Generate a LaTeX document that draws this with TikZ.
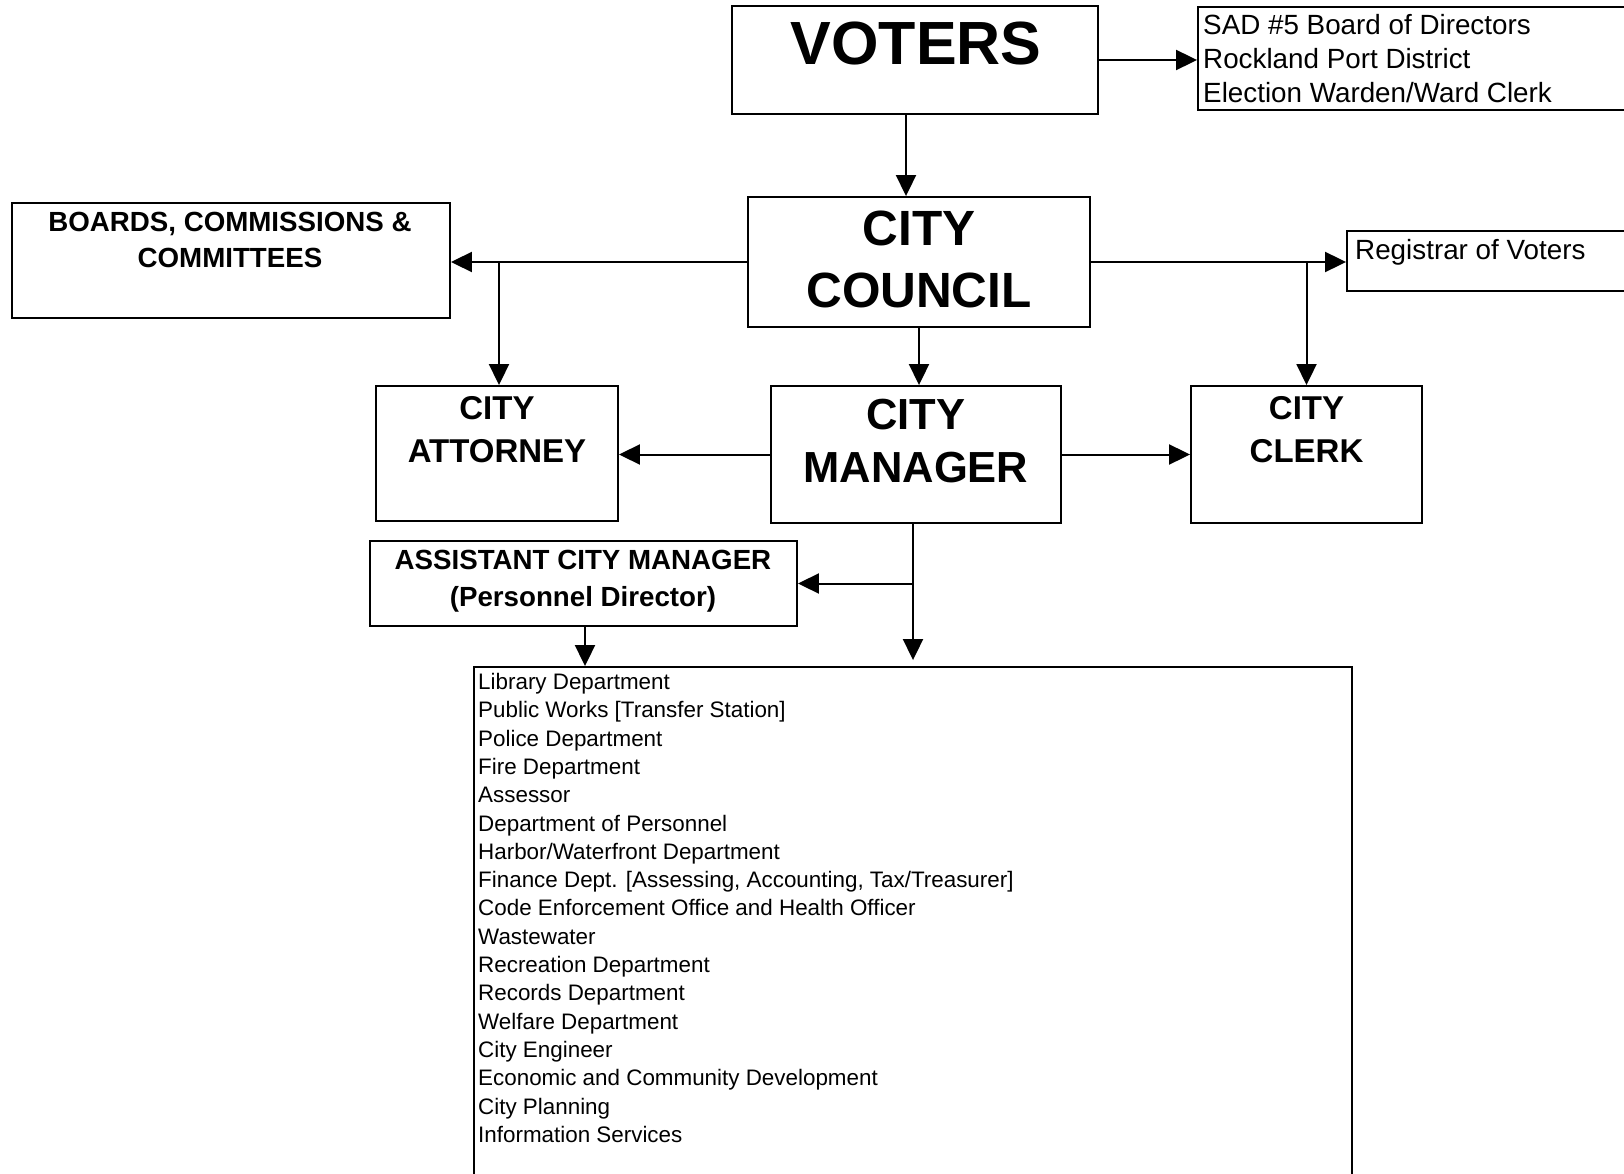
\documentclass[tikz,border=0pt]{standalone}
\usepackage{fontspec}
\setmainfont{Liberation Sans}
\usetikzlibrary{arrows.meta}
\begin{document}
\begin{tikzpicture}[x=1pt,y=-1pt,
  box/.style={draw, line width=1.9pt, inner sep=0pt},
  arr/.style={line width=2pt, -{Triangle[length=21pt,width=20pt]}},
  ttl/.style={anchor=base, inner sep=0pt, align=center},
  lst/.style={anchor=base west, inner sep=0pt},
  fvoters/.style={font=\bfseries\fontsize{61}{61}\selectfont},
  fcouncil/.style={font=\bfseries\fontsize{49.5}{50}\selectfont},
  fmanager/.style={font=\bfseries\fontsize{43.5}{44}\selectfont},
  fmiddle/.style={font=\bfseries\fontsize{33}{34}\selectfont},
  fsmall/.style={font=\bfseries\fontsize{27.7}{28}\selectfont},
  fregular/.style={font=\fontsize{27.8}{28}\selectfont},
  fdept/.style={font=\fontsize{22.4}{24}\selectfont}]
\useasboundingbox (0,0) rectangle (1624,1174);
\clip (0,0) rectangle (1624,1174);

% boxes
\node[box, minimum width=366pt, minimum height=108pt] (voters) at (915,60) {};
\node[box, minimum width=442pt, minimum height=103pt] (sad) at (1419,58.5) {};
\node[box, minimum width=342pt, minimum height=130pt] (council) at (919,262) {};
\node[box, minimum width=438pt, minimum height=115pt] (boards) at (231,260.5) {};
\node[box, minimum width=293pt, minimum height=60pt] (registrar) at (1493.5,261) {};
\node[box, minimum width=242pt, minimum height=135pt] (attorney) at (497,453.5) {};
\node[box, minimum width=290pt, minimum height=137pt] (manager) at (916,454.5) {};
\node[box, minimum width=231pt, minimum height=137pt] (clerk) at (1306.5,454.5) {};
\node[box, minimum width=427pt, minimum height=85pt] (assistant) at (583.5,583.5) {};
\node[box, minimum width=878pt, minimum height=523pt] (dept) at (913,928.5) {};

% texts
\node[ttl, fvoters] (tvoters) at (916,65) {VOTERS};
\node[ttl, fcouncil] (tcouncil1) at (919,246) {CITY};
\node[ttl, fcouncil] (tcouncil2) at (919,307) {COUNCIL};
\node[ttl, fmanager] (tman1) at (916,429) {CITY};
\node[ttl, fmanager] (tman2) at (916,482.5) {MANAGER};
\node[ttl, fmiddle] (tatt1) at (497,419.5) {CITY};
\node[ttl, fmiddle] (tatt2) at (497,462) {ATTORNEY};
\node[ttl, fmiddle] (tclk1) at (1306.5,419.5) {CITY};
\node[ttl, fmiddle] (tclk2) at (1306.5,462) {CLERK};
\node[ttl, fsmall] (tbrd1) at (230,232) {BOARDS, COMMISSIONS \&};
\node[ttl, fsmall] (tbrd2) at (230,268) {COMMITTEES};
\node[ttl, fsmall] (tasst1) at (583,569.5) {ASSISTANT CITY MANAGER};
\node[ttl, fsmall] (tasst2) at (583,606) {(Personnel Director)};
\node[lst, fregular] (tsad1) at (1203,35) {SAD \#5 Board of Directors};
\node[lst, fregular] (tsad2) at (1203,69) {Rockland Port District};
\node[lst, fregular] (tsad3) at (1203,103) {Election Warden/Ward Clerk};
\node[lst, fregular] (treg) at (1355,260) {Registrar of Voters};

\foreach \t [count=\i] in {{Library Department},{Public Works [Transfer Station]},{Police Department},{Fire Department},{Assessor},{Department of Personnel},{Harbor/Waterfront Department},{Finance Dept. [Assessing, Accounting, Tax/Treasurer]},{Code Enforcement Office and Health Officer},{Wastewater},{Recreation Department},{Records Department},{Welfare Department},{City Engineer},{Economic and Community Development},{City Planning},{Information Services}}
  \node[lst, fdept] (dept\i) at (478,{689.5+(\i-1)*28.3}) {\t};

% connectors
\draw[arr] (voters.east) -- (voters.east -| sad.west);
\draw[arr] ([xshift=-9pt]voters.south) -- ([xshift=-9pt]voters.south |- council.north);
\draw[arr] (council.west) -- (council.west -| boards.east);
\draw[arr] ([xshift=2pt]council.west -| attorney.north) -- ([xshift=2pt]attorney.north);
\draw[arr] (council.south) -- (council.south |- manager.north);
\draw[arr] (manager.west) -- (manager.west -| attorney.east);
\draw[arr] (manager.east) -- (manager.east -| clerk.west);
\draw[arr] (council.east) -- (council.east -| registrar.west);
\draw[arr] (council.east -| clerk.north) -- (clerk.north);
\coordinate (mdown) at ([xshift=-3pt]manager.south);
\coordinate (mend) at ([yshift=6pt]dept.north -| mdown);
\draw[arr] (mdown) -- (mend);
\draw[arr] (mdown |- assistant.east) -- (assistant.east);
\draw[arr] ([xshift=1.5pt]assistant.south) -- ([xshift=1.5pt]assistant.south |- dept.north);
\end{tikzpicture}
\end{document}
